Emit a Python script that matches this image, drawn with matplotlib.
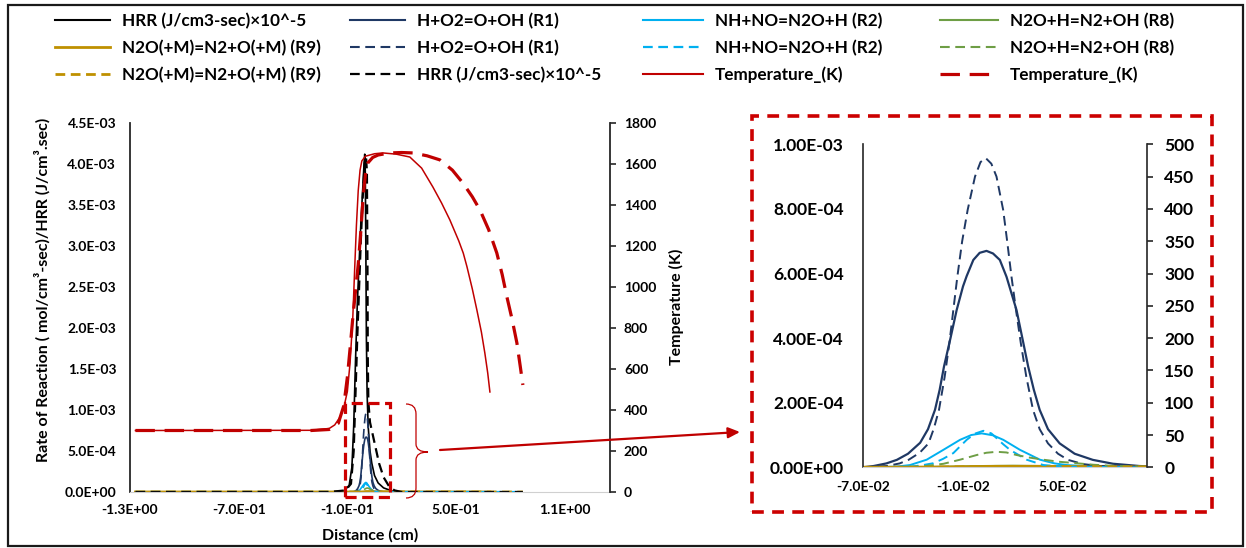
import numpy as np
import matplotlib
matplotlib.use('Agg')
import matplotlib.pyplot as plt
from matplotlib.path import Path
from matplotlib.patches import PathPatch, Rectangle, FancyArrowPatch, ArrowStyle
from matplotlib.ticker import FixedLocator, FuncFormatter

plt.rcParams['font.family'] = ['Lato', 'DejaVu Sans']
plt.rcParams['font.weight'] = 'bold'
plt.rcParams['lines.scale_dashes'] = False

W, H = 1246, 548
DPI = 100

# ---------------- data ----------------
LBL_HRR = 'HRR (J/cm3-sec)×10^-5'
LBL_R1 = 'H+O2=O+OH (R1)'
LBL_R2 = 'NH+NO=N2O+H (R2)'
LBL_R8 = 'N2O+H=N2+OH (R8)'
LBL_R9 = 'N2O(+M)=N2+O(+M) (R9)'
LBL_T = 'Temperature_(K)'

X_START = -1.27      # first grid point (cm)
X_END_S = 0.687      # last grid point, solid case
X_END_D = 0.869      # last grid point, dashed case

# reaction rates near the flame, in 1e-3 mol/cm3-s
r1s_x = [-0.0700, -0.0636, -0.0560, -0.0497, -0.0430, -0.0357, -0.0310, -0.0268, -0.0240, -0.0214,
         -0.0175, -0.0138, -0.0100, -0.0078, -0.0038, 0.0000, 0.0041, 0.0080, 0.0121, 0.0161,
         0.0221, 0.0256, 0.0291, 0.0325, 0.0360, 0.0410, 0.0480, 0.0570, 0.0679, 0.0800,
         0.0958, 0.1000]
r1s_y = [0.000, 0.004, 0.012, 0.023, 0.042, 0.076, 0.118, 0.178, 0.240, 0.312,
         0.400, 0.487, 0.560, 0.592, 0.642, 0.664, 0.670, 0.662, 0.642, 0.590,
         0.487, 0.400, 0.312, 0.240, 0.178, 0.118, 0.074, 0.042, 0.023, 0.011,
         0.004, 0.003]

r1d_x = [-0.0700, -0.0557, -0.0480, -0.0427, -0.0360, -0.0307, -0.0275, -0.0244, -0.0210, -0.0182,
         -0.0158, -0.0134, -0.0105, -0.0072, -0.0028, 0.0005, 0.0037, 0.0070, 0.0101, 0.0141,
         0.0165, 0.0191, 0.0218, 0.0247, 0.0280, 0.0320, 0.0360, 0.0410, 0.0470, 0.0530,
         0.0620, 0.0719, 0.1000]
r1d_y = [0.000, 0.004, 0.012, 0.023, 0.045, 0.074, 0.120, 0.178, 0.280, 0.384,
         0.487, 0.590, 0.700, 0.797, 0.900, 0.945, 0.957, 0.940, 0.900, 0.797,
         0.700, 0.590, 0.487, 0.384, 0.280, 0.178, 0.118, 0.074, 0.042, 0.023,
         0.010, 0.004, 0.001]

r2s_x = [-0.0700, -0.0500, -0.0418, -0.0318, -0.0218, -0.0118, -0.0050, 0.0012, 0.0080, 0.0142,
         0.0242, 0.0362, 0.0450, 0.0522, 0.0650, 0.0800, 0.1000]
r2s_y = [0.000, 0.002, 0.007, 0.0235, 0.054, 0.085, 0.100, 0.105, 0.099, 0.085,
         0.054, 0.0235, 0.012, 0.007, 0.003, 0.001, 0.000]

r2d_x = [-0.0700, -0.0418, -0.0350, -0.0278, -0.0220, -0.0158, -0.0078, -0.0030, 0.0022, 0.0070,
         0.0102, 0.0140, 0.0182, 0.0282, 0.0382, 0.0500, 0.1000]
r2d_y = [0.000, 0.002, 0.006, 0.0126, 0.026, 0.044, 0.085, 0.104, 0.113, 0.105,
         0.090, 0.072, 0.054, 0.0235, 0.007, 0.002, 0.000]

r8s_x = [-0.070, -0.030, 0.000, 0.020, 0.040, 0.070, 0.100]
r8s_y = [0.000, 0.001, 0.004, 0.005, 0.004, 0.002, 0.001]

r8d_x = [-0.0700, -0.0450, -0.0358, -0.0218, -0.0118, -0.0018, 0.0040, 0.0102, 0.0160, 0.0222,
         0.0300, 0.0382, 0.0480, 0.0582, 0.0680, 0.0782, 0.0900, 0.1000]
r8d_y = [0.000, 0.001, 0.002, 0.0108, 0.0235, 0.038, 0.045, 0.048, 0.046, 0.038,
         0.030, 0.0235, 0.017, 0.0126, 0.008, 0.005, 0.003, 0.002]

r9s_x = [-0.070, -0.020, 0.010, 0.040, 0.070, 0.100]
r9s_y = [0.000, 0.001, 0.003, 0.003, 0.002, 0.001]
r9d_x = [-0.070, -0.020, 0.010, 0.040, 0.070, 0.100]
r9d_y = [0.000, 0.001, 0.002, 0.002, 0.0015, 0.001]

# heat release rate x 1e-5, in 1e-3 units
hrr_s_x = [-1.27, -0.20, -0.12, -0.09, -0.075, -0.065, -0.055, -0.045, -0.035, -0.025,
           -0.015, -0.008, -0.004, -0.001, 0.002, 0.005, 0.009, 0.015, 0.025, 0.035,
           0.050, 0.070, 0.100, 0.150, 0.200, 0.687]
hrr_s_y = [0.0, 0.0, 0.01, 0.08, 0.3, 0.8, 1.6, 2.3, 2.8, 3.3,
           3.7, 4.0, 4.12, 3.9, 3.0, 1.9, 1.2, 0.8, 0.5, 0.35,
           0.2, 0.11, 0.05, 0.01, 0.0, 0.0]
hrr_d_x = [-1.27, -0.20, -0.11, -0.08, -0.065, -0.055, -0.045, -0.035, -0.025, -0.015,
           -0.005, 0.003, 0.008, 0.011, 0.013, 0.016, 0.025, 0.040, 0.055, 0.075,
           0.100, 0.130, 0.160, 0.200, 0.869]
hrr_d_y = [0.0, 0.0, 0.02, 0.1, 0.5, 1.2, 1.9, 2.5, 3.1, 3.6,
           4.0, 4.1, 3.9, 2.8, 1.6, 1.1, 0.85, 0.7, 0.55, 0.35,
           0.18, 0.07, 0.02, 0.0, 0.0]

# temperature (K)
ts_x = [-1.27, -0.30, -0.20, -0.17, -0.14, -0.12, -0.10, -0.085, -0.07, -0.06,
        -0.05, -0.04, -0.03, -0.02, 0.00, 0.05, 0.096, 0.17, 0.245, 0.31,
        0.372, 0.42, 0.466, 0.515, 0.54, 0.56, 0.59, 0.615, 0.64, 0.659,
        0.675, 0.687]
ts_y = [300, 301, 310, 327, 366, 410, 490, 630, 850, 1080,
        1300, 1470, 1570, 1615, 1638, 1650, 1654, 1648, 1634, 1580,
        1488, 1410, 1327, 1225, 1165, 1100, 990, 888, 780, 678,
        580, 488]
td_x = [-1.27, -0.30, -0.20, -0.15, -0.12, -0.10, -0.085, -0.07, -0.055, -0.04,
        -0.025, -0.012, 0.0, 0.013, 0.04, 0.07, 0.135, 0.20, 0.262, 0.34,
        0.411, 0.48, 0.538, 0.59, 0.632, 0.68, 0.725, 0.755, 0.781, 0.81,
        0.836, 0.855, 0.869]
td_y = [300, 300, 305, 335, 420, 560, 700, 850, 980, 1110,
        1280, 1450, 1550, 1605, 1632, 1644, 1654, 1656, 1654, 1640,
        1620, 1570, 1507, 1440, 1376, 1280, 1166, 1060, 951, 840,
        727, 610, 522]

MAIN_XTICKS = [-1.3, -0.7, -0.1, 0.5, 1.1]
MAIN_YTICKS = [0.0, 0.0005, 0.001, 0.0015, 0.002, 0.0025, 0.003, 0.0035, 0.004, 0.0045]
MAIN_TTICKS = [0, 200, 400, 600, 800, 1000, 1200, 1400, 1600, 1800]
INSET_XTICKS = [-0.07, -0.01, 0.05]
INSET_YTICKS = [0.0, 0.0002, 0.0004, 0.0006, 0.0008, 0.001]
INSET_Y2TICKS = [0, 50, 100, 150, 200, 250, 300, 350, 400, 450, 500]

# ---------------- styles ----------------
C_HRR = '#000000'
C_R1 = '#1F3864'
C_R2 = '#00B0F0'
C_R8 = '#6E9E45'
C_R9 = '#BF9000'
C_T = '#C00000'
C_BOX = '#CC0000'
DASH = (0, (7, 4))
DASH_T = (0, (14, 7))

def fx(px):
    return px / W

def fy(py):
    return 1 - py / H

def milli(v):
    return np.asarray(v) * 1e-3

def full_s(x, y):
    return [X_START] + list(x) + [X_END_S], np.concatenate([[0.0], milli(y), [0.0]])

def full_d(x, y):
    return [X_START] + list(x) + [X_END_D], np.concatenate([[0.0], milli(y), [0.0]])

fig = plt.figure(figsize=(W / DPI, H / DPI), dpi=DPI)

# ---------------- main chart ----------------
ax = fig.add_axes([fx(130), fy(492), fx(480), 369 / H])
ax2 = ax.twinx()

lw = 1.2
h_hrr_s, = ax.plot(hrr_s_x, milli(hrr_s_y), color=C_HRR, lw=lw)
h_r1_s, = ax.plot(*full_s(r1s_x, r1s_y), color=C_R1, lw=lw)
h_r2_s, = ax.plot(*full_s(r2s_x, r2s_y), color=C_R2, lw=lw)
h_r8_s, = ax.plot(*full_s(r8s_x, r8s_y), color=C_R8, lw=lw)
h_r9_s, = ax.plot(*full_s(r9s_x, r9s_y), color=C_R9, lw=2.0)
h_r1_d, = ax.plot(*full_d(r1d_x, r1d_y), color=C_R1, lw=lw, linestyle=DASH)
h_r2_d, = ax.plot(*full_d(r2d_x, r2d_y), color=C_R2, lw=1.6, linestyle=DASH)
h_r8_d, = ax.plot(*full_d(r8d_x, r8d_y), color=C_R8, lw=lw, linestyle=DASH)
h_r9_d, = ax.plot(*full_d(r9d_x, r9d_y), color=C_R9, lw=2.0, linestyle=DASH)
h_hrr_d, = ax.plot(hrr_d_x, milli(hrr_d_y), color=C_HRR, lw=1.6, linestyle=DASH)

h_t_s, = ax2.plot(ts_x, ts_y, color=C_T, lw=1.1)
h_t_d, = ax2.plot(td_x, td_y, color=C_T, lw=2.3, linestyle=DASH_T)

ax.set_xlim(-1.3, 1.35)
ax.set_ylim(0, 0.0045)
ax2.set_ylim(0, 1800)
ax.xaxis.set_major_locator(FixedLocator(MAIN_XTICKS))
ax.yaxis.set_major_locator(FixedLocator(MAIN_YTICKS))
ax2.yaxis.set_major_locator(FixedLocator(MAIN_TTICKS))
ax.xaxis.set_major_formatter(FuncFormatter(lambda v, p: f'{v:.1E}'))
ax.yaxis.set_major_formatter(FuncFormatter(lambda v, p: f'{v:.1E}'))

for a in (ax, ax2):
    a.spines['top'].set_visible(False)
    a.patch.set_visible(False)
ax.spines['right'].set_visible(False)
ax2.spines['left'].set_visible(False)
ax2.spines['bottom'].set_visible(False)
ax.spines['bottom'].set_color('#D0D0D0')
ax.spines['left'].set_color('#262626')
ax.spines['left'].set_linewidth(1.3)
ax2.spines['right'].set_color('#262626')
ax2.spines['right'].set_linewidth(1.3)

ax.tick_params(axis='x', length=0, pad=9, labelsize=10)
ax.tick_params(axis='y', length=0, pad=10, labelsize=10)
ax2.tick_params(axis='y', length=4, width=1.2, direction='out', pad=6, labelsize=10, color='#262626')

fig.text(fx(42), fy(290), 'Rate of Reaction ( mol/cm³-sec)/HRR (J/cm³.sec)', rotation=90,
         ha='center', va='center', fontsize=11.5, fontweight='bold')
fig.text(fx(676), fy(307), 'Temperature (K)', rotation=90, ha='center', va='center',
         fontsize=11.5, fontweight='bold')
fig.text(fx(370), fy(535), 'Distance (cm)', ha='center', va='center', fontsize=11.5, fontweight='bold')

# ---------------- inset chart ----------------
ai = fig.add_axes([fx(863), fy(467.3), fx(1147 - 863), 323 / H])
ai2 = ai.twinx()
ai.plot(r1s_x, milli(r1s_y), color=C_R1, lw=1.6)
ai.plot(r2s_x, milli(r2s_y), color=C_R2, lw=1.4)
ai.plot(r8s_x, milli(r8s_y), color=C_R8, lw=1.4)
ai.plot(r9s_x, milli(r9s_y), color=C_R9, lw=2.0)
ai.plot(r1d_x, milli(r1d_y), color=C_R1, lw=1.4, linestyle=DASH)
ai.plot(r2d_x, milli(r2d_y), color=C_R2, lw=1.4, linestyle=DASH)
ai.plot(r8d_x, milli(r8d_y), color=C_R8, lw=1.4, linestyle=DASH)
ai.plot(r9d_x, milli(r9d_y), color=C_R9, lw=2.0, linestyle=DASH)

ai.set_xlim(-0.07, 0.1004)
ai.set_ylim(0, 0.001)
ai2.set_ylim(0, 500)
ai.xaxis.set_major_locator(FixedLocator(INSET_XTICKS))
ai.yaxis.set_major_locator(FixedLocator(INSET_YTICKS))
ai2.yaxis.set_major_locator(FixedLocator(INSET_Y2TICKS))
ai.xaxis.set_major_formatter(FuncFormatter(lambda v, p: f'{v:.1E}'))
ai.yaxis.set_major_formatter(FuncFormatter(lambda v, p: f'{v:.2E}'))
for a in (ai, ai2):
    a.spines['top'].set_visible(False)
    a.patch.set_visible(False)
ai.spines['right'].set_visible(False)
ai2.spines['left'].set_visible(False)
ai2.spines['bottom'].set_visible(False)
ai.spines['bottom'].set_color('#D0D0D0')
ai.spines['left'].set_color('#262626')
ai2.spines['right'].set_color('#262626')
ai.spines['left'].set_linewidth(1.2)
ai2.spines['right'].set_linewidth(1.2)
ai.tick_params(axis='x', length=0, pad=10, labelsize=10)
ai.tick_params(axis='y', length=0, pad=14, labelsize=12.5)
ai2.tick_params(axis='y', length=4.5, width=1.2, direction='out', pad=8, labelsize=12.5, color='#262626')

# ---------------- annotations ----------------
fig.add_artist(Rectangle((fx(752), fy(512)), fx(1212 - 752), (512 - 116) / H, transform=fig.transFigure,
                         fill=False, edgecolor=C_BOX, lw=2.6, linestyle=(0, (8.5, 6))))
fig.add_artist(Rectangle((fx(345), fy(497)), fx(390 - 345), (497 - 403) / H, transform=fig.transFigure,
                         fill=False, edgecolor=C_BOX, lw=2.3, linestyle=(0, (8, 4))))
brace_pts = [(406, 404), (416, 404), (416, 414), (416, 444), (416, 452), (428, 452),
             (416, 452), (416, 460), (416, 488), (416, 498), (406, 498)]
brace_codes = [Path.MOVETO, Path.CURVE3, Path.CURVE3, Path.LINETO, Path.CURVE3, Path.CURVE3,
               Path.CURVE3, Path.CURVE3, Path.LINETO, Path.CURVE3, Path.CURVE3]
brace = Path([(fx(a), fy(b)) for a, b in brace_pts], brace_codes)
fig.add_artist(PathPatch(brace, transform=fig.transFigure, fill=False, edgecolor=C_T, lw=0.9))
fig.add_artist(FancyArrowPatch((fx(440), fy(450)), (fx(740), fy(432)), transform=fig.transFigure,
                               arrowstyle=ArrowStyle('-|>', head_length=7, head_width=3.2),
                               mutation_scale=1, shrinkA=0, shrinkB=0, color=C_T, lw=1.6))
# outer frame
fig.add_artist(Rectangle((fx(8), fy(546)), fx(1243 - 8), (546 - 5) / H, transform=fig.transFigure,
                         fill=False, edgecolor='#1A1A1A', lw=1.6))

# ---------------- legend (4 columns x 3 rows) ----------------
columns = [
    (55, 3.2, [(h_hrr_s, LBL_HRR), (h_r9_s, LBL_R9), (h_r9_d, LBL_R9)]),
    (350, 3.2, [(h_r1_s, LBL_R1), (h_r1_d, LBL_R1), (h_hrr_d, LBL_HRR)]),
    (643, 3.5, [(h_r2_s, LBL_R2), (h_r2_d, LBL_R2), (h_t_s, LBL_T)]),
    (940, 3.4, [(h_r8_s, LBL_R8), (h_r8_d, LBL_R8), (h_t_d, LBL_T)]),
]
for x0, hl, items in columns:
    leg = fig.legend([h for h, _ in items], [l for _, l in items], loc='upper left',
                     bbox_to_anchor=(fx(x0), fy(13)), frameon=False, fontsize=12.3,
                     handlelength=hl, handletextpad=0.7, labelspacing=0.62,
                     borderpad=0, borderaxespad=0)
    for line in leg.get_lines():
        line.set_linewidth(max(line.get_linewidth(), 1.5))

fig.savefig('out.png', dpi=DPI)
